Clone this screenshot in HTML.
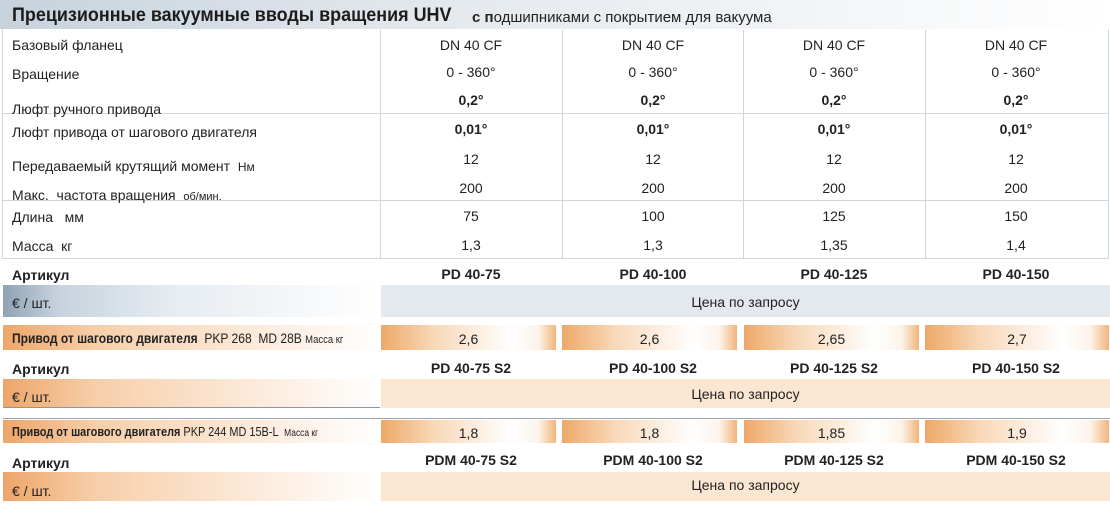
<!DOCTYPE html>
<html><head><meta charset="utf-8"><style>
*{margin:0;padding:0;box-sizing:border-box}
body{width:1110px;height:515px;background:#fff;position:relative;overflow:hidden;font-family:"Liberation Sans",Arial,sans-serif;color:#222}
.a{position:absolute}
.t{position:absolute;font-size:14px;white-space:nowrap}
.c{position:absolute;font-size:14px;text-align:center;white-space:nowrap}
.b{font-weight:bold}
.vl{position:absolute;top:30px;height:228px;width:1px;background:#cfd6dc}
.hl{position:absolute;left:2px;width:1107px;height:1px;background:#cfd6dc}
.og{background:linear-gradient(90deg,#eea868 0%,#f8d8b8 30%,#fff 75%,#fdf3ea 90%,#f1b47c 100%)}
.ol{background:linear-gradient(90deg,#eea66a 0%,#f6cfaa 25%,#fbe6d3 60%,#fff 100%)}
.n{transform-origin:0 50%}
</style></head><body>
<div class="a" style="left:0;top:0;width:1110px;height:29px;background:linear-gradient(90deg,#c8d2dc 0%,#e4e9ee 40%,#f3f5f7 75%,#fff 100%)"></div>
<div class="t b n" style="left:12px;top:5px;font-size:19px;color:#1c1c1c;transform:scaleX(0.945)">Прецизионные вакуумные вводы вращения UHV</div>
<div class="t" style="left:472px;top:9px;font-size:15px"><b>с п</b>одшипниками с покрытием для вакуума</div>
<div class="a" style="left:2px;top:29px;width:1107px;height:230px;border:1px solid #cfd6dc;border-top:none"></div>
<div class="vl" style="left:380px"></div><div class="vl" style="left:562px"></div><div class="vl" style="left:743px"></div><div class="vl" style="left:925px"></div>
<div class="hl" style="top:113px"></div><div class="hl" style="top:200px"></div>
<div class="t" style="left:12px;top:37px">Базовый фланец</div>
<div class="t" style="left:12px;top:66px">Вращение</div>
<div class="t" style="left:12px;top:101px">Люфт ручного привода</div>
<div class="t" style="left:12px;top:124px">Люфт привода от шагового двигателя</div>
<div class="t" style="left:12px;top:158px">Передаваемый крутящий момент &nbsp;<span style="font-size:12px">Нм</span></div>
<div class="t" style="left:12px;top:187px">Макс. &nbsp;частота вращения &nbsp;<span style="font-size:11px">об/мин.</span></div>
<div class="t" style="left:12px;top:209px">Длина &nbsp; мм</div>
<div class="t" style="left:12px;top:238px">Масса &nbsp;кг</div>
<div id="cols"></div>
<div class="t b" style="left:12px;top:267px">Артикул</div>
<div class="a" style="left:3px;top:285px;width:377px;height:32px;background:linear-gradient(90deg,#8fa3b6 0%,#c8d3de 15%,#e6ecf1 45%,#fff 100%)"></div>
<div class="a" style="left:381px;top:285px;width:729px;height:32px;background:#e3e9ef"></div>
<div class="t" style="left:12px;top:295px">€ / шт.</div>
<div class="c" style="left:381px;width:729px;top:294px">Цена по запросу</div>
<div class="a ol" style="left:3px;top:325px;width:377px;height:25px"></div>
<div class="t n" style="left:12px;top:330px;font-size:14px;transform:scaleX(0.86)"><b>Привод от шагового двигателя</b> &nbsp;PKP 268 &nbsp;MD 28B <span style="font-size:11px">Масса кг</span></div>
<div class="a ol" style="left:3px;top:379px;width:377px;height:29px"></div>
<div class="a" style="left:3px;top:407px;width:377px;height:1px;background:#8a98a6"></div>
<div class="a" style="left:381px;top:379px;width:729px;height:29px;background:#fbe6d2"></div>
<div class="t b" style="left:12px;top:361px">Артикул</div>
<div class="t" style="left:12px;top:389px">€ / шт.</div>
<div class="c" style="left:381px;width:729px;top:386px">Цена по запросу</div>
<div class="a" style="left:3px;top:418px;width:1107px;height:1px;background:#9aa6b2"></div>
<div class="a ol" style="left:3px;top:420px;width:377px;height:23px"></div>
<div class="t n" style="left:12px;top:424px;font-size:13px;transform:scaleX(0.84)"><b>Привод от шагового двигателя</b> PKP 244 MD 15B-L &nbsp;<span style="font-size:10px">Масса кг</span></div>
<div class="t b" style="left:12px;top:455px">Артикул</div>
<div class="a ol" style="left:3px;top:472px;width:377px;height:29px"></div>
<div class="a" style="left:381px;top:472px;width:729px;height:29px;background:#fbe6d2"></div>
<div class="t" style="left:12px;top:483px">€ / шт.</div>
<div class="c" style="left:381px;width:729px;top:477px">Цена по запросу</div>
<script>
var X=[[381,175],[562,175],[744,175],[925,184]];
var rows=[[37,["DN 40 CF","DN 40 CF","DN 40 CF","DN 40 CF"],0],[64,["0 - 360°","0 - 360°","0 - 360°","0 - 360°"],0],[92,["0,2°","0,2°","0,2°","0,2°"],1],[121,["0,01°","0,01°","0,01°","0,01°"],1],[151,["12","12","12","12"],0],[180,["200","200","200","200"],0],[208,["75","100","125","150"],0],[237,["1,3","1,3","1,35","1,4"],0],
[266,["PD 40-75","PD 40-100","PD 40-125","PD 40-150"],1],[360,["PD 40-75 S2","PD 40-100 S2","PD 40-125 S2","PD 40-150 S2"],1],[452,["PDM 40-75 S2","PDM 40-100 S2","PDM 40-125 S2","PDM 40-150 S2"],1]];
var h="";
var cx=[471,653,834,1016];
rows.forEach(function(r){r[1].forEach(function(s,i){h+='<div class="c'+(r[2]?' b':'')+'" style="left:'+(cx[i]-90)+'px;width:180px;top:'+r[0]+'px">'+s+'</div>';});});
var d1=["2,6","2,6","2,65","2,7"],d2=["1,8","1,8","1,85","1,9"];
X.forEach(function(p,i){
h+='<div class="a og" style="left:'+p[0]+'px;top:325px;width:'+p[1]+'px;height:25px"></div><div class="c" style="left:'+p[0]+'px;width:'+p[1]+'px;top:331px">'+d1[i]+'</div>';
h+='<div class="a og" style="left:'+p[0]+'px;top:420px;width:'+p[1]+'px;height:23px"></div><div class="c" style="left:'+p[0]+'px;width:'+p[1]+'px;top:425px">'+d2[i]+'</div>';
});
document.getElementById("cols").innerHTML=h;
</script>
</body></html>
